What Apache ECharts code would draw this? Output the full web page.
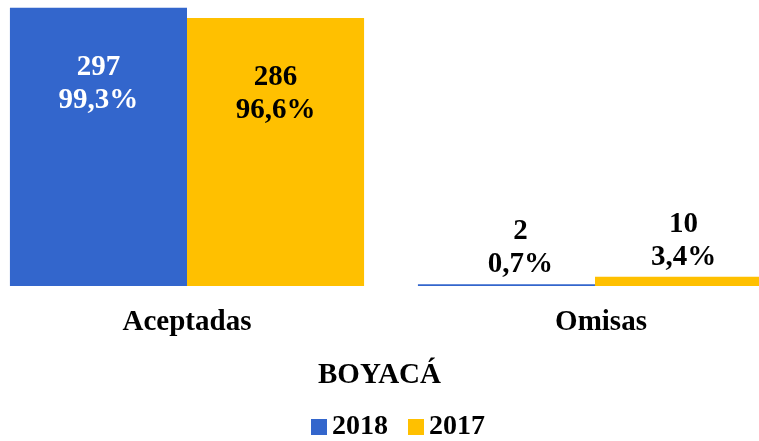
<!DOCTYPE html>
<html>
<head>
<meta charset="utf-8">
<script src="https://cdn.jsdelivr.net/npm/echarts@6/dist/echarts.min.js"></script>
<style>
  html, body { margin: 0; padding: 0; background: #ffffff; }
  #chart { width: 759px; height: 441px; }
</style>
</head>
<body>
<div id="chart"></div>
<script>
// Solicitudes por estado, Boyacá
const categories = ['Aceptadas', 'Omisas'];
const seriesNames = ['2018', '2017'];
const counts2018 = [297, 2];
const counts2017 = [286, 10];
const pct2018 = ['99,3%', '0,7%'];
const pct2017 = ['96,6%', '3,4%'];

const FONT = "'Liberation Serif', 'Times New Roman', serif";
const BLUE = '#3366CC';
const GOLD = '#FFC000';

function buildData(counts, pcts, isFirst) {
  return counts.map((v, i) => {
    const big = i === 0;
    return {
      value: v,
      label: {
        show: true,
        position: big ? 'insideTop' : 'top',
        distance: big ? 43 : 3,
        offset: (!big && isFirst) ? [14, 0] : [0, 0],
        color: (big && isFirst) ? '#ffffff' : '#000000',
        formatter: v + '\n' + pcts[i]
      }
    };
  });
}

const labelText = { fontFamily: FONT, fontSize: 29, fontWeight: 'bold', color: '#000000' };

const chart = echarts.init(document.getElementById('chart'), null, { renderer: 'canvas' });

chart.setOption({
  animation: false,
  backgroundColor: '#ffffff',
  title: {
    text: 'BOYACÁ',
    left: 'center',
    top: 356,
    textStyle: { fontFamily: FONT, fontSize: 29, fontWeight: 'bold', color: '#000000' }
  },
  legend: {
    data: seriesNames,
    top: 408,
    left: 306,
    icon: 'rect',
    itemWidth: 16,
    itemHeight: 16,
    itemGap: 20,
    textStyle: { fontFamily: FONT, fontSize: 28, fontWeight: 'bold', color: '#000000' }
  },
  // the plot area runs past the right edge, so the last bar is cut off there
  grid: { left: -17, top: 5, width: 816, height: 281, containLabel: false, outerBoundsMode: 'none' },
  xAxis: {
    type: 'category',
    data: categories,
    axisLine: { show: false },
    axisTick: { show: false },
    axisLabel: {
      margin: 22,
      formatter: (v, i) => i === 1 ? '{r|' + v + '}' : '{n|' + v + '}',
      rich: {
        n: Object.assign({}, labelText),
        r: Object.assign({ padding: [0, 0, 0, 12] }, labelText)
      }
    }
  },
  yAxis: {
    type: 'value',
    min: 0,
    max: 300,
    show: false,
    splitLine: { show: false }
  },
  series: [
    {
      name: seriesNames[0],
      type: 'bar',
      barGap: '0%',
      barCategoryGap: '13.2%',
      itemStyle: { color: BLUE },
      label: { fontFamily: FONT, fontSize: 29, fontWeight: 'bold', lineHeight: 33, align: 'center' },
      data: buildData(counts2018, pct2018, true)
    },
    {
      name: seriesNames[1],
      type: 'bar',
      barGap: '0%',
      barCategoryGap: '13.2%',
      itemStyle: { color: GOLD },
      label: { fontFamily: FONT, fontSize: 29, fontWeight: 'bold', lineHeight: 33, align: 'center' },
      data: buildData(counts2017, pct2017, false)
    }
  ]
});
</script>
</body>
</html>
